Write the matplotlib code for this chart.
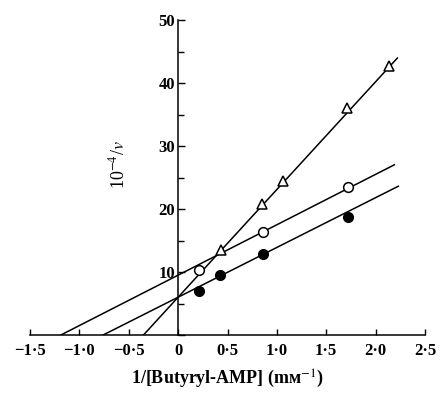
import numpy as np
import matplotlib
matplotlib.use("Agg")
from matplotlib import pyplot as plt
from matplotlib.ticker import MultipleLocator, FuncFormatter

plt.rcParams['font.family'] = ['Liberation Serif', 'DejaVu Serif']
plt.rcParams['mathtext.fontset'] = 'stix'

# reciprocal substrate concentration (mM^-1) and 10^-4/v
tri_x = [0.43, 0.85, 1.06, 1.71, 2.14]
tri_y = [13.5, 20.8, 24.5, 36.0, 42.7]
open_x = [0.21, 0.86, 1.72]
open_y = [10.3, 16.4, 23.5]
filled_x = [0.21, 0.42, 0.86, 1.72]
filled_y = [7.0, 9.6, 12.9, 18.7]

# fitted lines: slope, intercept, x-end
line_slope = [17.1, 8.0, 7.9]
line_icpt = [6.0, 9.5, 6.0]
line_xend = [2.22, 2.19, 2.23]

fig = plt.figure(figsize=(4.4, 3.93), dpi=100)
ax = fig.add_axes([30 / 440, 58 / 393, 395 / 440, 315 / 393])

for m, b, xe in zip(line_slope, line_icpt, line_xend):
    xs = np.array([-b / m, xe])
    ax.plot(xs, m * xs + b, color='black', lw=1.1, zorder=2)

ax.plot(tri_x, tri_y, '^', ms=7, mfc='white', mec='black', mew=1.1, zorder=3)
ax.plot(open_x, open_y, 'o', ms=7, mfc='white', mec='black', mew=1.1, zorder=3)
ax.plot(filled_x, filled_y, 'o', ms=7, mfc='black', mec='black', zorder=3)

ax.set_xlim(-1.5, 2.5)
ax.set_ylim(0, 50)
ax.spines['left'].set_position(('data', 0))
ax.spines['top'].set_visible(False)
ax.spines['right'].set_visible(False)
ax.spines['left'].set_linewidth(1.1)
ax.spines['bottom'].set_linewidth(1.1)

ax.xaxis.set_major_locator(MultipleLocator(0.5))
ax.yaxis.set_major_locator(MultipleLocator(10))
ax.yaxis.set_minor_locator(MultipleLocator(5))


def fmt_x(v, pos):
    if abs(v) < 1e-9:
        return '0'
    s = '%.1f' % abs(v)
    s = s.replace('.', '·')
    return ('\u2212' if v < 0 else '') + s


def fmt_y(v, pos):
    if v == 0:
        return ''
    return '%d' % v


ax.xaxis.set_major_formatter(FuncFormatter(fmt_x))
ax.yaxis.set_major_formatter(FuncFormatter(fmt_y))
ax.tick_params(axis='x', direction='in', length=4, width=1, labelsize=12, pad=6)
ax.tick_params(axis='y', which='major', direction='in', length=5, width=1,
               labelsize=12, pad=2)
ax.tick_params(axis='y', which='minor', direction='in', length=4, width=1)
for lab in ax.get_xticklabels() + ax.get_yticklabels():
    lab.set_fontweight('bold')

ax.set_xlabel('1/[Butyryl-AMP] (mᴍ$^{-1}$)', fontsize=13, fontweight='bold',
              labelpad=6)
ax.text(-0.6, 27, '10$^{-4}$/$v$', rotation=90, fontsize=13,
        ha='center', va='center')

fig.savefig('out.png', dpi=100)
